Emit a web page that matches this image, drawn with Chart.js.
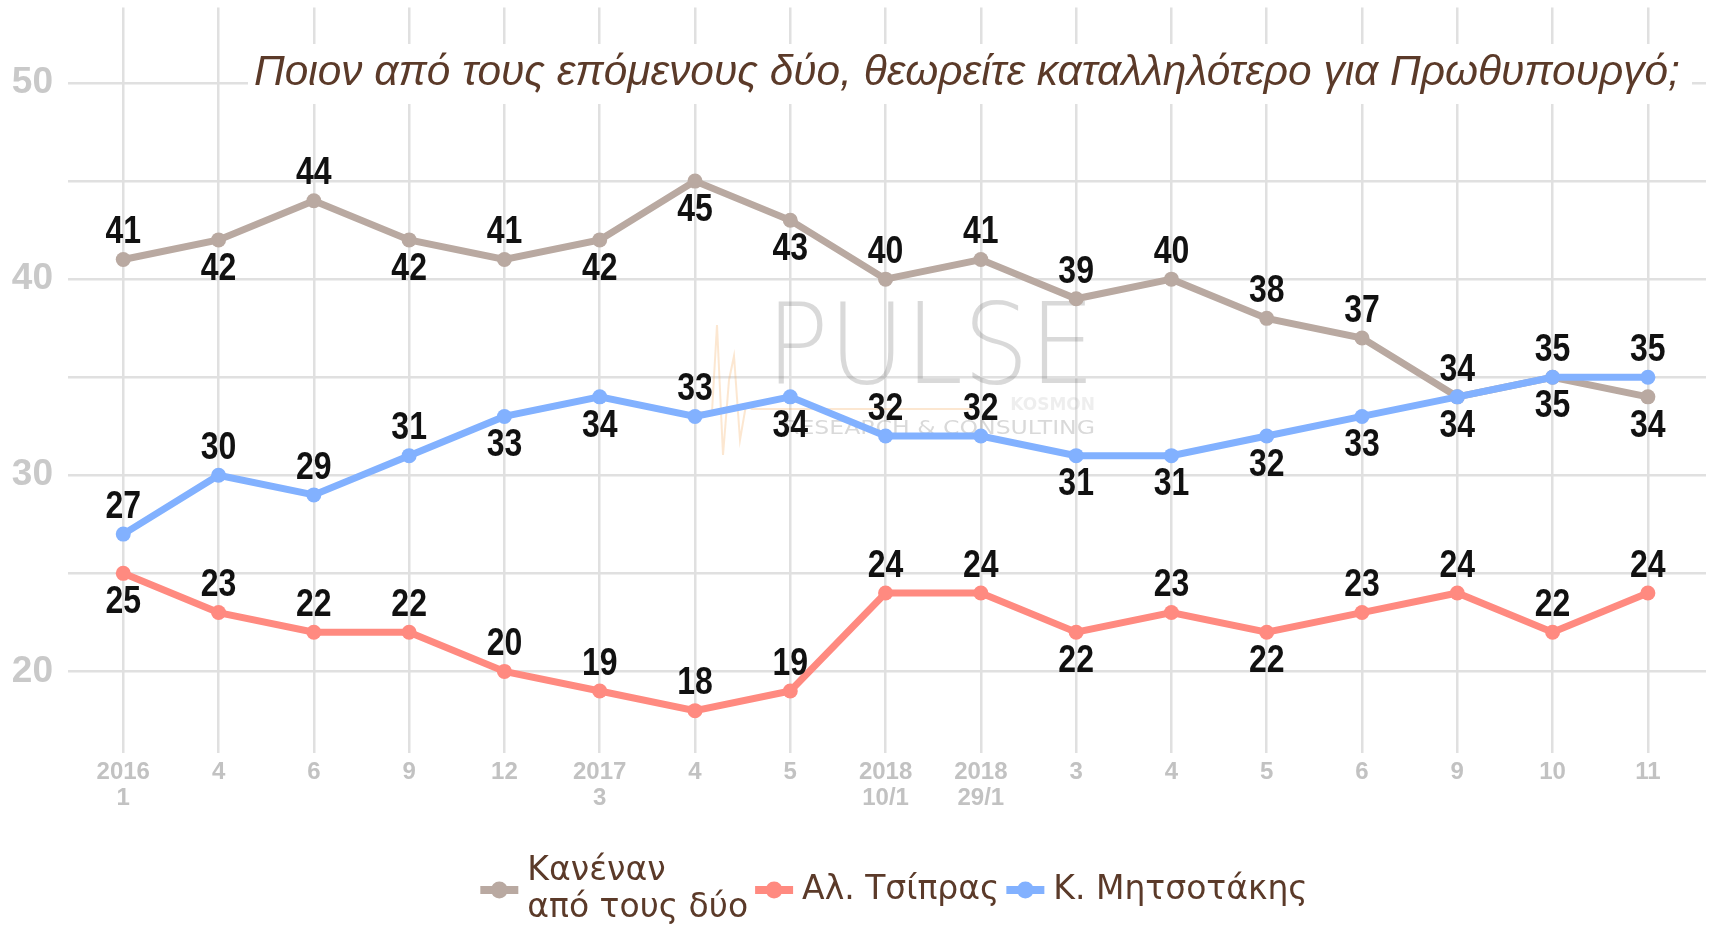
<!DOCTYPE html>
<html><head><meta charset="utf-8">
<script src="https://cdn.jsdelivr.net/npm/chart.js@4.4.0/dist/chart.umd.min.js"></script>
<style>html,body{margin:0;padding:0;background:#fff;}#wrap{width:1717px;height:926px;position:relative;}</style>
</head><body><div id="wrap"><canvas id="c" width="1717" height="926"></canvas></div>
<script>
const categories = [['2016','1'],'4','6','9','12',['2017','3'],'4','5',['2018','10/1'],['2018','29/1'],'3','4','5','6','9','10','11'];
const noneValues = [41,42,44,42,41,42,45,43,40,41,39,40,38,37,34,35,34];
const tsiprasValues = [25,23,22,22,20,19,18,19,24,24,22,23,22,23,24,22,24];
const mitsotakisValues = [27,30,29,31,33,34,33,34,32,32,31,31,32,33,34,35,35];
const seriesNames = [['Κανέναν','από τους δύο'], ['Αλ. Τσίπρας'], ['Κ. Μητσοτάκης']];
const yTickValues = [20,25,30,35,40,45,50];
const yLabelValues = [20,30,40,50];
const titleText = 'Ποιον από τους επόμενους δύο, θεωρείτε καταλληλότερο για Πρωθυπουργό;';

// label placement: 1 = above point, -1 = below point
const nonePlace = [1,-1,1,-1,1,-1,-1,-1,1,1,1,1,1,1,1,-1,-1];
const tsiprasPlace = [-1,1,1,1,1,1,1,1,1,1,-1,1,-1,1,1,1,1];
const mitsoPlace = [1,1,1,1,-1,-1,1,-1,1,1,-1,-1,-1,-1,-1,1,1];

const COLORS = ['#b9a9a1', '#ff8a80', '#82b1ff'];
const TEXT_BROWN = '#5b3a29';

function makeDs(name, vals, color, place, order, legendIdx) {
  return {
    label: name, data: vals.map((v, i) => ({x: i, y: v})),
    borderColor: color, backgroundColor: color, borderWidth: 7,
    pointRadius: 7.5, pointHoverRadius: 7.5, pointBorderWidth: 0, tension: 0,
    order: order, place: place, legendIdx: legendIdx
  };
}

const decor = {
  id: 'decor',
  beforeDatasetsDraw(chart) {
    const ctx = chart.ctx;
    ctx.save();
    ctx.fillStyle = 'rgba(110,110,110,0.26)';
    ctx.textBaseline = 'alphabetic'; ctx.textAlign = 'left';
    ctx.font = '200 112px "DejaVu Sans"';
    let w = ctx.measureText('PULSE').width;
    ctx.save(); ctx.translate(766, 383); ctx.scale(329 / w, 1); ctx.fillText('PULSE', 0, 0); ctx.restore();
    ctx.font = '20px "DejaVu Sans"';
    w = ctx.measureText('RESEARCH & CONSULTING').width;
    ctx.save(); ctx.translate(783, 434); ctx.scale(312 / w, 1); ctx.fillText('RESEARCH & CONSULTING', 0, 0); ctx.restore();
    ctx.fillStyle = 'rgba(140,140,140,0.15)';
    ctx.font = 'bold 17px "DejaVu Sans"'; ctx.textAlign = 'right';
    ctx.fillText('KOSMON', 1095, 410);
    ctx.strokeStyle = 'rgba(245,170,90,0.28)'; ctx.lineWidth = 2;
    ctx.beginPath();
    [[700,412],[712,412],[717,325],[723,455],[729,380],[734,356],[740,440],[746,405],[752,409],[972,409]].forEach((p, k) => k ? ctx.lineTo(p[0], p[1]) : ctx.moveTo(p[0], p[1]));
    ctx.stroke();
    ctx.restore();
  },
  afterDatasetsDraw(chart) {
    const ctx = chart.ctx;
    ctx.save();
    ctx.font = 'bold 39px "Liberation Sans"';
    ctx.fillStyle = '#111';
    ctx.textAlign = 'center'; ctx.textBaseline = 'middle';
    chart.data.datasets.forEach((ds, i) => {
      const meta = chart.getDatasetMeta(i);
      meta.data.forEach((pt, j) => {
        const dy = ds.place[j] > 0 ? -27 : 29;
        ctx.save();
        ctx.translate(pt.x, pt.y + dy);
        ctx.scale(0.82, 1);
        ctx.fillText(String(ds.data[j].y), 0, 0);
        ctx.restore();
      });
    });
    ctx.fillStyle = '#fff';
    ctx.fillRect(248, 44, 1444, 60);
    ctx.font = 'italic 40px "Liberation Sans"';
    let tw = ctx.measureText(titleText).width;
    const fs = 40 * 1427 / tw;
    ctx.font = 'italic ' + fs.toFixed(1) + 'px "Liberation Sans"';
    ctx.fillStyle = TEXT_BROWN; ctx.textAlign = 'left'; ctx.textBaseline = 'middle';
    ctx.fillText(titleText, 254, 73);
    ctx.font = '33px "DejaVu Sans"';
    const sets = chart.data.datasets.slice().sort((a, b) => a.legendIdx - b.legendIdx);
    const markW = 38, gap = 9, itemGap = 7;
    const widths = sets.map(d => Math.max(...seriesNames[d.legendIdx].map(s => ctx.measureText(s).width)));
    const total = widths.reduce((a, b) => a + b, 0) + sets.length * (markW + gap) + (sets.length - 1) * itemGap;
    let x = 894 - total / 2;
    const cy = 890;
    sets.forEach((d, k) => {
      ctx.strokeStyle = d.borderColor; ctx.lineWidth = 8;
      ctx.beginPath(); ctx.moveTo(x, cy); ctx.lineTo(x + markW, cy); ctx.stroke();
      ctx.fillStyle = d.borderColor;
      ctx.beginPath(); ctx.arc(x + markW / 2, cy, 8.5, 0, Math.PI * 2); ctx.fill();
      const lines = seriesNames[d.legendIdx];
      ctx.fillStyle = TEXT_BROWN; ctx.textAlign = 'left'; ctx.textBaseline = 'middle';
      lines.forEach((s, li) => {
        ctx.fillText(s, x + markW + gap, cy + (li - (lines.length - 1) / 2) * 37);
      });
      x += markW + gap + widths[k] + itemGap;
    });
    ctx.restore();
  }
};

new Chart(document.getElementById('c'), {
  type: 'line',
  data: {
    datasets: [
      makeDs('Κανέναν από τους δύο', noneValues, COLORS[0], nonePlace, 1, 0),
      makeDs('Αλ. Τσίπρας', tsiprasValues, COLORS[1], tsiprasPlace, 2, 1),
      makeDs('Κ. Μητσοτάκης', mitsotakisValues, COLORS[2], mitsoPlace, 0, 2)
    ]
  },
  options: {
    responsive: false, animation: false,
    layout: {padding: {top: 2, right: 11, left: 0, bottom: 0}},
    plugins: {legend: {display: false}, tooltip: {enabled: false}},
    scales: {
      x: {
        type: 'linear', min: -0.58, max: 16.61,
        afterBuildTicks: s => { s.ticks = categories.map((c, i) => ({value: i})); },
        afterFit: s => { s.height = 173; s.paddingLeft = 0; s.paddingRight = 0; },
        ticks: {
          autoSkip: false, maxRotation: 0, minRotation: 0, padding: 7,
          callback: v => categories[v],
          color: '#c2c2c2',
          font: {family: '"Liberation Sans"', weight: 'bold', size: 24, lineHeight: 1.06}
        },
        grid: {color: '#e0e0e0', lineWidth: 2.5, drawTicks: false},
        border: {display: false}
      },
      y: {
        type: 'linear', min: 15.84, max: 53.85,
        afterBuildTicks: s => { s.ticks = yTickValues.map(v => ({value: v})); },
        afterFit: s => { s.width = 68; s.paddingTop = 0; s.paddingBottom = 0; },
        ticks: {
          padding: 15, color: '#c9c9c9',
          callback: v => yLabelValues.includes(v) ? String(v) : '',
          font: {family: '"Liberation Sans"', size: 37, weight: 'bold'}
        },
        grid: {color: '#e0e0e0', lineWidth: 2.5, drawTicks: false},
        border: {display: false}
      }
    }
  },
  plugins: [decor]
});
</script></body></html>
